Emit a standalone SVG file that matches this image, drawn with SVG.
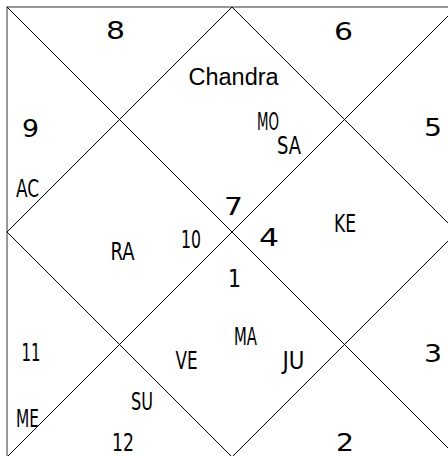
<svg xmlns="http://www.w3.org/2000/svg" width="448" height="456" viewBox="0 0 448 456">
<style>
.bg{fill:#ffffff}
.frame{fill:none;stroke:#808080;stroke-width:1.6}
.ln{fill:none;stroke:#000000;stroke-width:1}
.d{font-family:"DejaVu Sans","Verdana",sans-serif;font-size:25px;fill:#000}
.p{font-family:"DejaVu Sans Condensed","DejaVu Sans",sans-serif;font-stretch:condensed;font-size:25px;fill:#000}
.c{font-family:"Liberation Sans",Arial,sans-serif;font-size:23.5px;fill:#000}
</style>
<rect class="bg" x="0" y="0" width="448" height="456"/>
<g id="connectors">
<rect class="frame" x="7" y="7" width="450" height="450"/>
<line class="ln" x1="7" y1="7" x2="457" y2="457"/>
<line class="ln" x1="457" y1="7" x2="7" y2="457"/>
<polygon class="ln" points="232,7 457,232 232,457 7,232"/>
</g>
<g id="house1">
<text class="d" x="228" y="287" textLength="13" lengthAdjust="spacingAndGlyphs">1</text>
<text class="p" x="234" y="345" textLength="23" lengthAdjust="spacingAndGlyphs">MA</text>
<text class="p" x="282.5" y="369" textLength="22" lengthAdjust="spacingAndGlyphs">JU</text>
</g>
<g id="house2">
<text class="d" x="336" y="451" textLength="18" lengthAdjust="spacingAndGlyphs">2</text>
</g>
<g id="house3">
<text class="d" x="424" y="362" textLength="18" lengthAdjust="spacingAndGlyphs">3</text>
</g>
<g id="house4">
<text class="d" x="259" y="246" textLength="20" lengthAdjust="spacingAndGlyphs">4</text>
<text class="p" x="334" y="232" textLength="22" lengthAdjust="spacingAndGlyphs">KE</text>
</g>
<g id="house5">
<text class="d" x="424" y="136" textLength="18" lengthAdjust="spacingAndGlyphs">5</text>
</g>
<g id="house6">
<text class="d" x="334" y="40" textLength="19" lengthAdjust="spacingAndGlyphs">6</text>
</g>
<g id="house7">
<text class="d" x="224" y="215" textLength="19" lengthAdjust="spacingAndGlyphs">7</text>
<text class="c" x="188.5" y="85">Chandra</text>
<text class="p" x="257" y="130" textLength="22" lengthAdjust="spacingAndGlyphs">MO</text>
<text class="p" x="277" y="154" textLength="24" lengthAdjust="spacingAndGlyphs">SA</text>
</g>
<g id="house8">
<text class="d" x="106" y="39" textLength="19" lengthAdjust="spacingAndGlyphs">8</text>
</g>
<g id="house9">
<text class="d" x="22" y="137" textLength="17" lengthAdjust="spacingAndGlyphs">9</text>
<text class="p" x="16" y="197" textLength="23" lengthAdjust="spacingAndGlyphs">AC</text>
</g>
<g id="house10">
<text class="p" x="181" y="248" textLength="20" lengthAdjust="spacingAndGlyphs">10</text>
<text class="p" x="110.5" y="260" textLength="24" lengthAdjust="spacingAndGlyphs">RA</text>
</g>
<g id="house11">
<text class="p" x="21.5" y="361" textLength="19" lengthAdjust="spacingAndGlyphs">11</text>
<text class="p" x="16" y="427" textLength="23" lengthAdjust="spacingAndGlyphs">ME</text>
</g>
<g id="house12">
<text class="p" x="112" y="451" textLength="22" lengthAdjust="spacingAndGlyphs">12</text>
<text class="p" x="131" y="410" textLength="22" lengthAdjust="spacingAndGlyphs">SU</text>
<text class="p" x="175.5" y="369" textLength="22" lengthAdjust="spacingAndGlyphs">VE</text>
</g>
</svg>
